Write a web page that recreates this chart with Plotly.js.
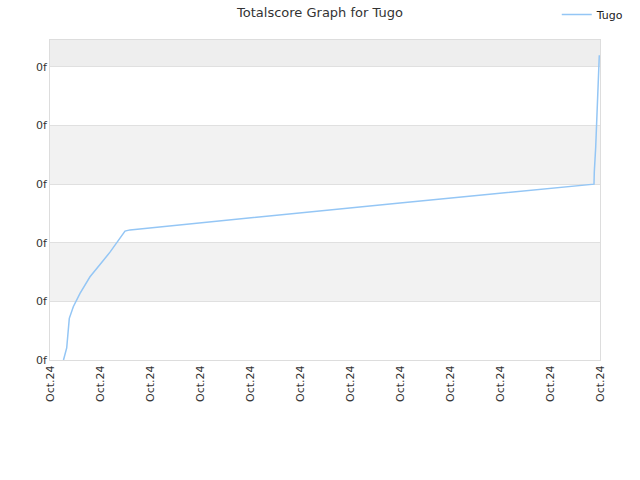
<!DOCTYPE html>
<html>
<head>
<meta charset="utf-8">
<script src="https://cdn.plot.ly/plotly-3.0.1.min.js"></script>
<style>html,body{margin:0;padding:0;background:#fff;}#chart{width:640px;height:480px;}</style>
</head>
<body>
<div id="chart"></div>
<script>
const seriesName = "Tugo";
const xValues = [0.27, 0.334, 0.386, 0.466, 0.6, 0.8, 1.0, 1.2, 1.4, 1.5, 1.6, 4.0, 7.0, 10.88, 10.886, 10.914, 10.934, 10.954, 10.974, 10.986];
const yValues = [0, 0.205, 0.711, 0.909, 1.137, 1.42, 1.63, 1.84, 2.08, 2.20, 2.22, 2.43, 2.68, 3.0, 3.21, 3.63, 4.09, 4.55, 5.0, 5.2];
const xTickVals = [0,1,2,3,4,5,6,7,8,9,10,11];
const xTickText = ["Oct.24","Oct.24","Oct.24","Oct.24","Oct.24","Oct.24","Oct.24","Oct.24","Oct.24","Oct.24","Oct.24","Oct.24"];
const yTickVals = [0,1,2,3,4,5];
const yTickText = ["0f","0f","0f","0f","0f","0f"];

const bands = [[1,2,"#f2f2f2"],[3,4,"#f2f2f2"],[5,5.46,"#eeeeee"]];
const shapes = bands.map(b => ({type:"rect", xref:"paper", yref:"y", x0:0, x1:1, y0:b[0], y1:b[1], fillcolor:b[2], line:{width:0}, layer:"below"}));

const trace = {
  x: xValues, y: yValues, type: "scatter", mode: "lines", name: seriesName,
  line: {color: "#94c6f5", width: 1.5}
};

const layout = {
  width: 640, height: 480,
  margin: {l: 50, r: 40, t: 40, b: 120},
  paper_bgcolor: "#fff", plot_bgcolor: "#fff",
  font: {family: "DejaVu Sans, sans-serif", size: 11, color: "#333"},
  title: {text: "Totalscore Graph for Tugo", x: 0.5, xref: "container", y: 0.975, yref: "container", yanchor: "middle", font: {size: 13, color: "#333"}},
  showlegend: true,
  legend: {x: 0.984, xref: "container", xanchor: "right", y: 0.97, yref: "container", yanchor: "middle", orientation: "h", font: {size: 11, color: "#222"}, bgcolor: "rgba(0,0,0,0)"},
  shapes: shapes,
  xaxis: {
    range: [0, 11], tickvals: xTickVals, ticktext: xTickText, tickangle: -90,
    showgrid: false, zeroline: false, showline: true, linecolor: "#dddddd", mirror: true, linewidth: 1,
    ticks: "", tickfont: {size: 11, color: "#333"}
  },
  yaxis: {
    range: [0, 5.46], tickvals: yTickVals, ticktext: yTickText,
    showgrid: true, gridcolor: "#e0e0e0", zeroline: false, showline: true, linecolor: "#dddddd", mirror: true, linewidth: 1,
    ticks: "", tickfont: {size: 11, color: "#333"}
  }
};

Plotly.newPlot("chart", [trace], layout, {displayModeBar: false, staticPlot: true});
</script>
</body>
</html>
